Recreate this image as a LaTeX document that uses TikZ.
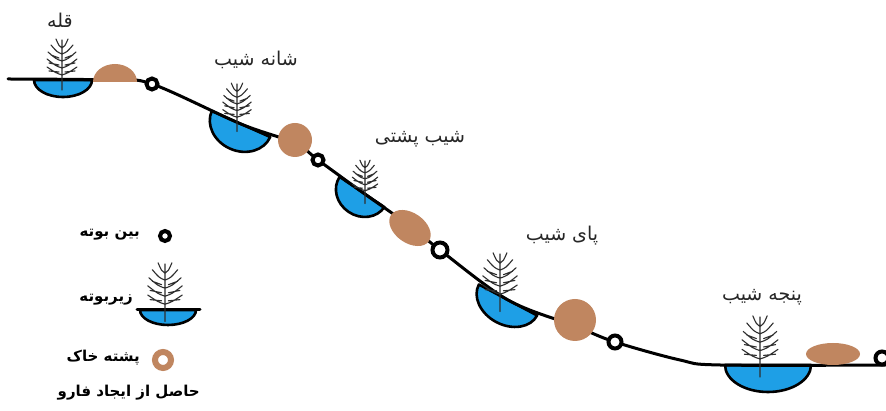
\documentclass[tikz,border=0pt]{standalone}
\usepackage{fontspec}
\TeXXeTstate=1
\newfontfamily\fa[Script=Arabic]{DejaVu Sans}
\definecolor{water}{HTML}{1E9FE6}
\definecolor{soil}{HTML}{C08660}
\definecolor{plantc}{HTML}{2E2E2E}
\definecolor{labelc}{HTML}{262626}
\tikzset{
  ground/.style={line width=3pt, line cap=round, line join=round},
  basinfill/.style={fill=water, draw=black, line width=2.6pt, line join=round},
  mound/.style={fill=soil, draw=none},
  gapring/.style={draw=black, fill=white, line width=4pt},
  lab/.style={font=\fa\fontsize{19}{21}\selectfont, text=labelc, inner sep=0pt},
  leg/.style={font=\fa\bfseries\fontsize{15}{17}\selectfont, text=black, inner sep=0pt},
  shrub/.pic={
    \draw[plantc, line width=1.1pt, line cap=round]
      (0,-10) -- (0,40)
      (0,5) .. controls (-6,7) .. (-15,13)  (0,5) .. controls (6,7) .. (15,13)
      (0,12) .. controls (-6,14) .. (-15,21) (0,12) .. controls (6,14) .. (15,21)
      (0,19) .. controls (-6,21) .. (-14,28) (0,19) .. controls (6,21) .. (14,28)
      (0,26) .. controls (-5,28) .. (-11,35)  (0,26) .. controls (5,28) .. (11,35)
      (0,32) .. controls (-3,34) .. (-6,41)  (0,32) .. controls (3,34) .. (6,41)
      (-3,8) -- (-13,9) (3,8) -- (13,9)
      (-3,15) -- (-13,17) (3,15) -- (13,17)
      (-3,22) -- (-11,25) (3,22) -- (11,25);
  }
}
\newcommand\basinAt[5]{%
  \begin{scope}[shift={(#1,#2)}, rotate=#5]
    \filldraw[basinfill] (-#3,0) arc[start angle=180, end angle=360, x radius=#3, y radius=#4] -- cycle;
  \end{scope}}
\newcommand\domeAt[5]{%
  \begin{scope}[shift={(#1,#2)}, rotate=#5]
    \fill[mound] (-#3,0) arc[start angle=180, end angle=0, x radius=#3, y radius=#4] -- cycle;
  \end{scope}}
\begin{document}
\begin{tikzpicture}[x=1pt, y=1pt]
\useasboundingbox (0,0) rectangle (886,411);
\fill[white] (0,0) rectangle (886,411);

% basins
\basinAt{63}{331}{29}{17}{0}
\basinAt{241}{287}{32}{27}{-24}
\basinAt{362}{219}{27}{24}{-34}
\basinAt{508}{111}{33}{25}{-28}
\basinAt{768}{46}{43}{27}{0}

% ground line
\draw[ground] plot[smooth, tension=0.55] coordinates {(8,332) (110,331) (152,327) (241,287) (295,268) (318,251) (362,219) (410,185) (440,161) (508,111) (575,85) (615,69) (680,51) (720,46) (886,46)};

% shrubs
\pic at (62,331) {shrub};
\pic[scale=0.95] at (237,289) {shrub};
\pic[scale=0.85] at (365,216) {shrub};
\pic[scale=1.15] at (500,111) {shrub};
\pic[scale=1.2] at (760,46) {shrub};

% soil mounds
\domeAt{115}{329}{22}{18}{0}
\fill[mound] (295,271) circle[radius=17];
\fill[mound, rotate around={-35:(410,183)}] (410,183) ellipse[x radius=23, y radius=15];
\fill[mound] (575,91) circle[radius=21];
\fill[mound] (833,57) ellipse[x radius=27, y radius=11];

% inter-shrub points
\draw[gapring] (152,327) circle[radius=5.5];
\draw[gapring] (318,251) circle[radius=5.5];
\draw[gapring] (440,161) circle[radius=7.5];
\draw[gapring] (615,69) circle[radius=6.5];
\draw[gapring] (882,53) circle[radius=6.5];

% labels
\node[lab] (top) at (60,391) {\beginR قله\endR};
\node[lab] (shoulder) at (256,351) {\beginR شانه شیب\endR};
\node[lab] (back) at (420,272) {\beginR شیب پشتی\endR};
\node[lab] (foot) at (562,175) {\beginR پای شیب\endR};
\node[lab] (toe) at (762,114) {\beginR پنجه شیب\endR};

% legend
\draw[gapring] (165,175) circle[radius=5];
\node[leg, anchor=east] (lgap) at (140,176) {\beginR بین بوته\endR};

\basinAt{168}{101}{28}{15}{0}
\draw[ground] (137,101) -- (200,101);
\pic[scale=1.15] at (165,101) {shrub};
\node[leg, anchor=east] (lshrub) at (133,111) {\beginR زیربوته\endR};

\draw[soil, fill=white, line width=6pt] (163,51) circle[radius=8];
\node[leg, anchor=east] (lsoil) at (140,53) {\beginR پشته خاک\endR};
\node[leg, anchor=east] (lsoil2) at (200,18) {\beginR حاصل از ایجاد فارو\endR};
\end{tikzpicture}
\end{document}
